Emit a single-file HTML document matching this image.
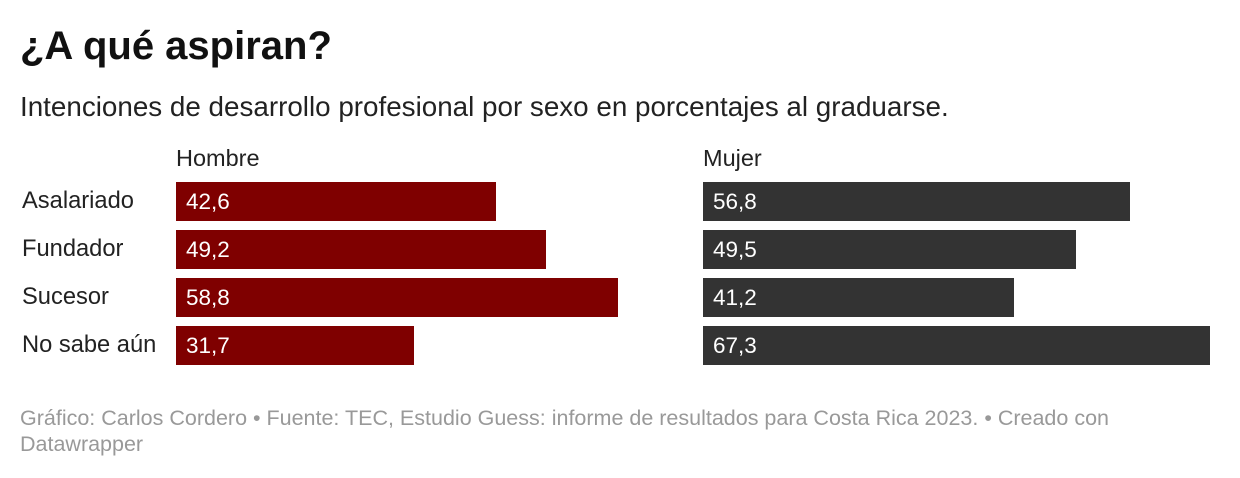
<!DOCTYPE html>
<html><head><meta charset="utf-8"><style>
body{margin:0;width:1240px;height:478px;background:#fff;font-family:"Liberation Sans",Arial,sans-serif;position:relative;overflow:hidden}
.a{position:absolute;white-space:nowrap}
.t{left:20px;top:24px;font-size:40px;font-weight:bold;color:#111}
.s{left:20px;top:91px;font-size:27.8px;color:#222}
.h{font-size:23.5px;color:#222}
.l{left:22px;font-size:23.7px;color:#222}
.b{position:absolute;height:39px;color:#fff;font-size:22.5px;line-height:39px;box-sizing:border-box;padding-left:10px}
.m{background:#7f0000;left:176px}
.w{background:#333;left:703px}
.f{left:20px;font-size:21.5px;color:#999;line-height:26px;width:1100px;white-space:normal;top:405px}
</style></head><body>
<div class="a t">¿A qué aspiran?</div>
<div class="a s">Intenciones de desarrollo profesional por sexo en porcentajes al graduarse.</div>
<div class="a h" style="left:176px;top:145px">Hombre</div>
<div class="a h" style="left:703px;top:145px">Mujer</div>
<div class="a l" style="top:188px">Asalariado</div>
<div class="a l" style="top:236px">Fundador</div>
<div class="a l" style="top:284px">Sucesor</div>
<div class="a l" style="top:332px">No sabe aún</div>
<div class="b m" style="top:182px;width:320px">42,6</div>
<div class="b m" style="top:230px;width:370px">49,2</div>
<div class="b m" style="top:278px;width:442px">58,8</div>
<div class="b m" style="top:326px;width:238px">31,7</div>
<div class="b w" style="top:182px;width:427px">56,8</div>
<div class="b w" style="top:230px;width:373px">49,5</div>
<div class="b w" style="top:278px;width:311px">41,2</div>
<div class="b w" style="top:326px;width:507px">67,3</div>
<div class="a f">Gráfico: Carlos Cordero • Fuente: TEC, Estudio Guess: informe de resultados para Costa Rica 2023. • Creado con Datawrapper</div>
</body></html>
